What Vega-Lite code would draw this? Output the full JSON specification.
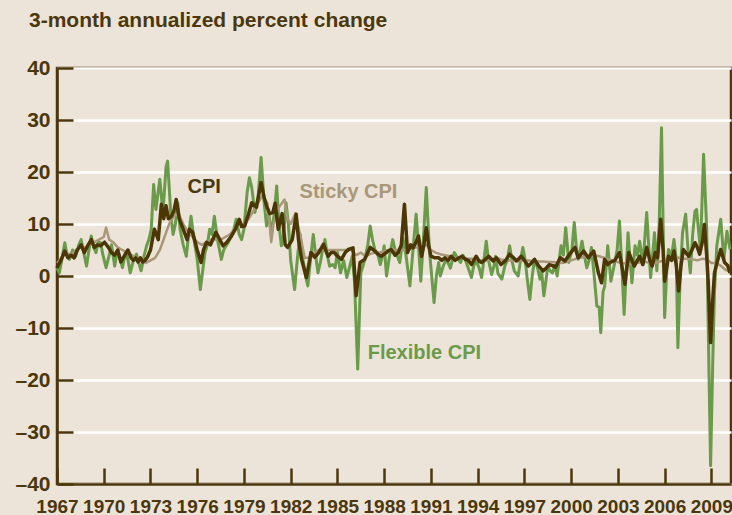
{
  "$schema": "https://vega.github.io/schema/vega-lite/v6.json",
  "width": 674,
  "height": 416,
  "autosize": "none",
  "padding": {"left": 57, "top": 68, "right": 1, "bottom": 31},
  "background": "#ece4d8",
  "title": {
    "text": "3-month annualized percent change",
    "anchor": "start",
    "frame": "group",
    "dx": -28,
    "offset": 9,
    "baseline": "alphabetic",
    "font": "Liberation Sans",
    "fontSize": 21,
    "fontWeight": "bold",
    "color": "#4b370b"
  },
  "config": {
    "view": {"stroke": "#4b370b", "strokeWidth": 2.5},
    "axis": {
      "labelFont": "Liberation Sans",
      "labelFontWeight": "bold",
      "labelColor": "#4b370b",
      "domainColor": "#4b370b",
      "domainWidth": 2.5,
      "tickColor": "#4b370b",
      "tickWidth": 2.5,
      "tickSize": -16,
      "title": null
    }
  },
  "datasets": {
    "flex": [
      {"t":1967.0,"v":1.5},{"t":1967.15,"v":0.6},{"t":1967.3,"v":3},{"t":1967.5,"v":6.4},{"t":1967.65,"v":4},{"t":1967.8,"v":3.2},
      {"t":1968.0,"v":5},{"t":1968.2,"v":3.8},{"t":1968.4,"v":6},{"t":1968.55,"v":7},{"t":1968.75,"v":4},{"t":1968.9,"v":1.9},
      {"t":1969.05,"v":5},{"t":1969.2,"v":7.7},{"t":1969.35,"v":5.5},{"t":1969.5,"v":4.5},{"t":1969.65,"v":6.5},{"t":1969.8,"v":6.4},{"t":1969.95,"v":4},
      {"t":1970.15,"v":1.6},{"t":1970.35,"v":4},{"t":1970.5,"v":6},{"t":1970.7,"v":1.9},{"t":1970.85,"v":4.5},
      {"t":1971.0,"v":3.8},{"t":1971.2,"v":1.6},{"t":1971.4,"v":4.5},{"t":1971.55,"v":3.2},{"t":1971.7,"v":0.6},{"t":1971.9,"v":3},
      {"t":1972.1,"v":4.2},{"t":1972.25,"v":2.5},{"t":1972.4,"v":1.0},{"t":1972.6,"v":4},{"t":1972.75,"v":5.8},{"t":1972.9,"v":7},
      {"t":1973.05,"v":9},{"t":1973.2,"v":17.6},{"t":1973.35,"v":12.8},{"t":1973.6,"v":18.6},{"t":1973.8,"v":12.2},
      {"t":1974.0,"v":21},{"t":1974.1,"v":22.1},{"t":1974.3,"v":12},{"t":1974.45,"v":8},{"t":1974.6,"v":10},{"t":1974.75,"v":14.1},{"t":1974.9,"v":9},
      {"t":1975.1,"v":6},{"t":1975.3,"v":3.8},{"t":1975.45,"v":8},{"t":1975.6,"v":11.5},{"t":1975.8,"v":7},
      {"t":1976.0,"v":3.2},{"t":1976.2,"v":-2.6},{"t":1976.35,"v":1},{"t":1976.5,"v":4.5},{"t":1976.65,"v":6},{"t":1976.8,"v":9},{"t":1976.95,"v":8},
      {"t":1977.1,"v":11.5},{"t":1977.3,"v":7},{"t":1977.55,"v":3.2},{"t":1977.7,"v":5},{"t":1977.85,"v":5.8},
      {"t":1978.0,"v":6.5},{"t":1978.2,"v":7.7},{"t":1978.35,"v":9},{"t":1978.5,"v":10.9},{"t":1978.7,"v":8},{"t":1978.85,"v":7},
      {"t":1979.0,"v":9},{"t":1979.2,"v":16},{"t":1979.35,"v":18.9},{"t":1979.5,"v":17},{"t":1979.7,"v":12.2},{"t":1979.9,"v":15},
      {"t":1980.1,"v":22.8},{"t":1980.3,"v":14},{"t":1980.45,"v":9.6},{"t":1980.6,"v":12},{"t":1980.75,"v":8.1},{"t":1980.95,"v":12},
      {"t":1981.1,"v":17.3},{"t":1981.25,"v":10},{"t":1981.4,"v":5.8},{"t":1981.55,"v":8},{"t":1981.7,"v":14.1},{"t":1981.85,"v":10},
      {"t":1982.0,"v":3},{"t":1982.25,"v":-2.6},{"t":1982.45,"v":4},{"t":1982.6,"v":8.1},{"t":1982.8,"v":3},
      {"t":1983.0,"v":-0.6},{"t":1983.1,"v":-1.9},{"t":1983.3,"v":4},{"t":1983.45,"v":8},{"t":1983.6,"v":4},{"t":1983.75,"v":0.6},{"t":1983.9,"v":2.6},
      {"t":1984.05,"v":5},{"t":1984.2,"v":7},{"t":1984.35,"v":4},{"t":1984.5,"v":1.9},{"t":1984.7,"v":2.2},{"t":1984.85,"v":1.6},
      {"t":1985.0,"v":4.5},{"t":1985.2,"v":0.6},{"t":1985.4,"v":3},{"t":1985.6,"v":-0.3},{"t":1985.8,"v":2},{"t":1985.95,"v":3.8},
      {"t":1986.1,"v":-1.3},{"t":1986.3,"v":-17.9},{"t":1986.5,"v":0.6},{"t":1986.65,"v":2},{"t":1986.75,"v":3.2},{"t":1986.95,"v":6},
      {"t":1987.1,"v":9.6},{"t":1987.25,"v":7},{"t":1987.4,"v":5.1},{"t":1987.6,"v":4},{"t":1987.75,"v":2.2},{"t":1987.9,"v":4},
      {"t":1988.0,"v":5.8},{"t":1988.15,"v":0},{"t":1988.35,"v":4},{"t":1988.55,"v":7},{"t":1988.7,"v":5},
      {"t":1989.0,"v":2.6},{"t":1989.2,"v":7.3},{"t":1989.4,"v":4},{"t":1989.65,"v":-1.9},{"t":1989.85,"v":5},
      {"t":1990.05,"v":11.9},{"t":1990.2,"v":6},{"t":1990.35,"v":-1.0},{"t":1990.5,"v":6},{"t":1990.7,"v":17.0},{"t":1990.9,"v":5.1},
      {"t":1991.05,"v":0},{"t":1991.2,"v":-5.1},{"t":1991.35,"v":0},{"t":1991.5,"v":2.6},{"t":1991.6,"v":0},{"t":1991.8,"v":2},
      {"t":1992.0,"v":3.2},{"t":1992.25,"v":1.5},{"t":1992.5,"v":4.5},{"t":1992.7,"v":3.5},{"t":1992.9,"v":2.6},
      {"t":1993.05,"v":4},{"t":1993.2,"v":3.2},{"t":1993.4,"v":1.5},{"t":1993.6,"v":-0.3},{"t":1993.75,"v":2},{"t":1993.9,"v":2.9},
      {"t":1994.1,"v":1.5},{"t":1994.25,"v":-0.3},{"t":1994.4,"v":3},{"t":1994.55,"v":6.7},{"t":1994.7,"v":3},{"t":1994.9,"v":0.3},
      {"t":1995.05,"v":2},{"t":1995.15,"v":3.8},{"t":1995.3,"v":0.5},{"t":1995.55,"v":-0.6},{"t":1995.75,"v":2},{"t":1995.9,"v":3},
      {"t":1996.05,"v":5.8},{"t":1996.2,"v":3},{"t":1996.35,"v":1.0},{"t":1996.6,"v":0},{"t":1996.75,"v":3},{"t":1996.9,"v":5.5},
      {"t":1997.05,"v":3},{"t":1997.2,"v":-1},{"t":1997.35,"v":-4.5},{"t":1997.5,"v":0},{"t":1997.65,"v":3.2},{"t":1997.85,"v":1.5},
      {"t":1998.0,"v":-0.6},{"t":1998.1,"v":1},{"t":1998.25,"v":-3.8},{"t":1998.4,"v":-0.5},{"t":1998.5,"v":1.9},{"t":1998.65,"v":1},{"t":1998.8,"v":0.6},{"t":1998.95,"v":2},
      {"t":1999.1,"v":0},{"t":1999.35,"v":5.8},{"t":1999.5,"v":4},{"t":1999.65,"v":9.3},{"t":1999.85,"v":2.6},
      {"t":2000.05,"v":5},{"t":2000.2,"v":10.3},{"t":2000.35,"v":5},{"t":2000.45,"v":3.2},{"t":2000.7,"v":6.7},{"t":2000.85,"v":4},
      {"t":2001.0,"v":1.6},{"t":2001.15,"v":3},{"t":2001.3,"v":5.5},{"t":2001.45,"v":1},{"t":2001.65,"v":-5.8},{"t":2001.8,"v":-6},{"t":2001.9,"v":-10.9},
      {"t":2002.05,"v":-3},{"t":2002.15,"v":-2},{"t":2002.35,"v":5.8},{"t":2002.55,"v":-1.0},{"t":2002.8,"v":2.6},{"t":2002.95,"v":5},
      {"t":2003.1,"v":10.6},{"t":2003.25,"v":2},{"t":2003.4,"v":-7.4},{"t":2003.55,"v":2},{"t":2003.65,"v":8.3},{"t":2003.9,"v":-1.3},
      {"t":2004.1,"v":5.8},{"t":2004.25,"v":4},{"t":2004.4,"v":6.7},{"t":2004.6,"v":2.2},{"t":2004.85,"v":12.2},
      {"t":2005.1,"v":-0.3},{"t":2005.2,"v":3},{"t":2005.35,"v":8.3},{"t":2005.5,"v":1.0},{"t":2005.65,"v":10},{"t":2005.8,"v":28.5},{"t":2005.9,"v":10},
      {"t":2006.0,"v":-8.0},{"t":2006.15,"v":2},{"t":2006.25,"v":5.1},{"t":2006.45,"v":4},{"t":2006.6,"v":7.0},{"t":2006.75,"v":3},{"t":2006.85,"v":-13.8},
      {"t":2007.0,"v":0},{"t":2007.15,"v":8.3},{"t":2007.35,"v":11.9},{"t":2007.5,"v":5},{"t":2007.65,"v":0.6},{"t":2007.8,"v":8},{"t":2007.95,"v":12.5},
      {"t":2008.05,"v":12.8},{"t":2008.2,"v":8},{"t":2008.3,"v":5.1},{"t":2008.5,"v":23.4},{"t":2008.7,"v":9},{"t":2008.8,"v":-10},{"t":2008.95,"v":-36.5},
      {"t":2009.1,"v":-15},{"t":2009.2,"v":-2.9},{"t":2009.35,"v":5.8},{"t":2009.6,"v":10.9},{"t":2009.8,"v":3.2},{"t":2010.0,"v":8.6},{"t":2010.2,"v":5.1}
    ],
    "sticky": [
      {"t":1967.0,"v":2.5},{"t":1967.3,"v":3.5},{"t":1967.6,"v":4.5},{"t":1967.9,"v":4},{"t":1968.2,"v":5},{"t":1968.5,"v":5.5},{"t":1968.8,"v":5.5},
      {"t":1969.1,"v":6},{"t":1969.4,"v":6.5},{"t":1969.7,"v":7},{"t":1970.0,"v":7.5},{"t":1970.15,"v":9.3},{"t":1970.35,"v":7},{"t":1970.6,"v":6.5},{"t":1970.9,"v":5.5},
      {"t":1971.2,"v":5},{"t":1971.5,"v":4.5},{"t":1971.8,"v":4},{"t":1972.1,"v":3.5},{"t":1972.4,"v":3},{"t":1972.7,"v":2.5},
      {"t":1973.0,"v":3},{"t":1973.3,"v":3.5},{"t":1973.6,"v":5},{"t":1973.9,"v":7.5},{"t":1974.2,"v":10},{"t":1974.5,"v":11.5},{"t":1974.8,"v":12},
      {"t":1975.1,"v":10},{"t":1975.4,"v":8.5},{"t":1975.7,"v":7.5},{"t":1976.0,"v":6.5},{"t":1976.3,"v":6},{"t":1976.6,"v":6.5},{"t":1976.9,"v":7},
      {"t":1977.2,"v":7},{"t":1977.5,"v":7},{"t":1977.8,"v":7.5},{"t":1978.1,"v":8},{"t":1978.4,"v":9},{"t":1978.7,"v":10},
      {"t":1979.0,"v":10},{"t":1979.3,"v":11},{"t":1979.6,"v":12.5},{"t":1979.9,"v":14},{"t":1980.2,"v":15.5},{"t":1980.5,"v":14},
      {"t":1980.65,"v":10},{"t":1980.75,"v":6.5},{"t":1980.9,"v":10},{"t":1981.2,"v":13},{"t":1981.6,"v":14.7},{"t":1981.8,"v":11},
      {"t":1982.0,"v":10},{"t":1982.3,"v":12},{"t":1982.6,"v":8},{"t":1982.9,"v":3.5},{"t":1983.2,"v":3.5},{"t":1983.5,"v":4.5},{"t":1983.8,"v":5},
      {"t":1984.1,"v":5},{"t":1984.4,"v":5},{"t":1984.7,"v":5},{"t":1985.0,"v":5},{"t":1985.3,"v":5},{"t":1985.6,"v":5},{"t":1985.9,"v":5},
      {"t":1986.2,"v":4},{"t":1986.5,"v":4.5},{"t":1986.8,"v":3.8},{"t":1987.1,"v":4.2},{"t":1987.4,"v":4.5},{"t":1987.7,"v":4.5},
      {"t":1988.0,"v":4.8},{"t":1988.3,"v":5},{"t":1988.6,"v":5},{"t":1988.9,"v":5},{"t":1989.2,"v":5},{"t":1989.5,"v":5},{"t":1989.8,"v":5.3},
      {"t":1990.1,"v":5.5},{"t":1990.4,"v":5.5},{"t":1990.7,"v":6},{"t":1991.0,"v":5},{"t":1991.3,"v":4.5},{"t":1991.6,"v":4.2},{"t":1991.9,"v":4},
      {"t":1992.2,"v":3.8},{"t":1992.5,"v":3.5},{"t":1992.8,"v":3.5},{"t":1993.1,"v":3.5},{"t":1993.4,"v":3.3},{"t":1993.7,"v":3.3},
      {"t":1994.0,"v":3},{"t":1994.3,"v":3},{"t":1994.6,"v":3},{"t":1994.9,"v":3.2},{"t":1995.2,"v":3.5},{"t":1995.5,"v":3.2},{"t":1995.8,"v":3},
      {"t":1996.1,"v":3},{"t":1996.4,"v":3},{"t":1996.7,"v":3},{"t":1997.0,"v":3},{"t":1997.3,"v":3},{"t":1997.6,"v":2.8},{"t":1997.9,"v":2.8},
      {"t":1998.2,"v":2.8},{"t":1998.5,"v":2.7},{"t":1998.8,"v":2.7},{"t":1999.1,"v":2.6},{"t":1999.4,"v":2.5},{"t":1999.7,"v":2.7},
      {"t":2000.0,"v":3},{"t":2000.3,"v":3.3},{"t":2000.6,"v":3.5},{"t":2000.9,"v":3.7},{"t":2001.2,"v":3.8},{"t":2001.5,"v":4},{"t":2001.8,"v":3.8},
      {"t":2002.1,"v":3.5},{"t":2002.4,"v":3.2},{"t":2002.7,"v":3},{"t":2003.0,"v":2.7},{"t":2003.3,"v":2.5},{"t":2003.6,"v":2.3},{"t":2003.9,"v":2.3},
      {"t":2004.2,"v":2.5},{"t":2004.5,"v":2.7},{"t":2004.8,"v":2.7},{"t":2005.1,"v":2.5},{"t":2005.4,"v":2.5},{"t":2005.7,"v":2.8},
      {"t":2006.0,"v":3},{"t":2006.3,"v":3.5},{"t":2006.6,"v":3.7},{"t":2006.9,"v":3.5},{"t":2007.2,"v":3.3},{"t":2007.5,"v":3.3},{"t":2007.8,"v":3.2},
      {"t":2008.1,"v":3},{"t":2008.4,"v":3.3},{"t":2008.7,"v":3.2},{"t":2009.0,"v":2.5},{"t":2009.3,"v":2.5},{"t":2009.6,"v":2},{"t":2009.9,"v":1.2},{"t":2010.2,"v":0.8}
    ],
    "cpi": [
      {"t":1967.0,"v":1.5},{"t":1967.05,"v":1.9},{"t":1967.25,"v":3},{"t":1967.5,"v":4.8},{"t":1967.7,"v":3.5},{"t":1967.9,"v":4},
      {"t":1968.1,"v":3.5},{"t":1968.3,"v":5},{"t":1968.55,"v":6},{"t":1968.75,"v":4.5},{"t":1969.0,"v":6},{"t":1969.2,"v":7},{"t":1969.4,"v":5.5},{"t":1969.6,"v":6},{"t":1969.8,"v":5.8},
      {"t":1970.05,"v":6.5},{"t":1970.3,"v":5.5},{"t":1970.5,"v":4.5},{"t":1970.7,"v":4},{"t":1970.9,"v":5},
      {"t":1971.1,"v":2.7},{"t":1971.35,"v":4},{"t":1971.55,"v":5},{"t":1971.75,"v":3.5},{"t":1971.9,"v":3},
      {"t":1972.05,"v":3.5},{"t":1972.2,"v":2.7},{"t":1972.35,"v":3.5},{"t":1972.5,"v":2.7},{"t":1972.65,"v":3},{"t":1972.8,"v":3.6},
      {"t":1973.0,"v":5},{"t":1973.25,"v":9},{"t":1973.5,"v":7},{"t":1973.7,"v":13.8},{"t":1973.85,"v":11},
      {"t":1974.0,"v":13.5},{"t":1974.15,"v":11},{"t":1974.35,"v":11.5},{"t":1974.5,"v":12.5},{"t":1974.65,"v":14.7},{"t":1974.85,"v":11},
      {"t":1975.1,"v":9},{"t":1975.35,"v":7},{"t":1975.5,"v":9},{"t":1975.7,"v":8.4},
      {"t":1976.0,"v":5},{"t":1976.25,"v":2.6},{"t":1976.4,"v":5},{"t":1976.6,"v":6.5},{"t":1976.85,"v":6},
      {"t":1977.2,"v":8.4},{"t":1977.45,"v":7},{"t":1977.65,"v":5.8},{"t":1977.9,"v":6.5},
      {"t":1978.2,"v":7.7},{"t":1978.45,"v":9},{"t":1978.7,"v":10.9},{"t":1978.85,"v":9.5},
      {"t":1979.05,"v":9.6},{"t":1979.3,"v":12},{"t":1979.5,"v":14.1},{"t":1979.8,"v":13.2},
      {"t":1980.1,"v":18},{"t":1980.3,"v":15},{"t":1980.45,"v":13.5},{"t":1980.65,"v":12},{"t":1980.85,"v":12.2},
      {"t":1981.0,"v":14},{"t":1981.2,"v":9},{"t":1981.45,"v":12},{"t":1981.65,"v":6},{"t":1981.8,"v":5.5},
      {"t":1982.1,"v":7},{"t":1982.35,"v":11.9},{"t":1982.5,"v":7},{"t":1982.7,"v":3.2},
      {"t":1983.0,"v":-0.3},{"t":1983.15,"v":2},{"t":1983.3,"v":4.5},{"t":1983.55,"v":3.6},{"t":1983.8,"v":4.5},
      {"t":1984.1,"v":6.1},{"t":1984.4,"v":3.8},{"t":1984.6,"v":4.5},{"t":1984.8,"v":4.5},
      {"t":1985.0,"v":3.8},{"t":1985.25,"v":3.2},{"t":1985.5,"v":4.5},{"t":1985.7,"v":5.1},
      {"t":1986.0,"v":5.4},{"t":1986.2,"v":-3.8},{"t":1986.45,"v":2.6},{"t":1986.75,"v":3.2},
      {"t":1987.1,"v":5.5},{"t":1987.4,"v":4.8},{"t":1987.6,"v":4.2},{"t":1987.8,"v":3.8},
      {"t":1988.0,"v":4.2},{"t":1988.25,"v":4.8},{"t":1988.45,"v":5.1},{"t":1988.7,"v":4},{"t":1988.9,"v":4.5},
      {"t":1989.1,"v":6},{"t":1989.3,"v":13.8},{"t":1989.5,"v":4.5},{"t":1989.7,"v":6},{"t":1989.85,"v":5.4},
      {"t":1990.05,"v":6.5},{"t":1990.2,"v":7.7},{"t":1990.4,"v":3.8},{"t":1990.55,"v":6},{"t":1990.7,"v":9.3},{"t":1990.85,"v":6},
      {"t":1991.0,"v":3.8},{"t":1991.25,"v":3.5},{"t":1991.5,"v":3.5},{"t":1991.7,"v":3},{"t":1991.9,"v":3.5},
      {"t":1992.1,"v":3},{"t":1992.3,"v":3.8},{"t":1992.55,"v":3},{"t":1992.8,"v":3.5},
      {"t":1993.0,"v":3.8},{"t":1993.2,"v":3.2},{"t":1993.4,"v":3},{"t":1993.6,"v":2.2},{"t":1993.75,"v":3},{"t":1993.9,"v":3.8},
      {"t":1994.1,"v":2.8},{"t":1994.25,"v":2.6},{"t":1994.5,"v":3.2},{"t":1994.7,"v":3.8},
      {"t":1995.0,"v":2.9},{"t":1995.2,"v":3.5},{"t":1995.5,"v":2.2},{"t":1995.8,"v":3},
      {"t":1996.05,"v":4.2},{"t":1996.3,"v":3.5},{"t":1996.5,"v":2.9},{"t":1996.8,"v":3.8},
      {"t":1997.05,"v":2.8},{"t":1997.25,"v":1.9},{"t":1997.45,"v":2.5},{"t":1997.65,"v":3.2},{"t":1997.9,"v":2},
      {"t":1998.2,"v":1.0},{"t":1998.4,"v":1.5},{"t":1998.6,"v":2.2},{"t":1998.8,"v":2},
      {"t":1999.0,"v":1.7},{"t":1999.3,"v":3.5},{"t":1999.6,"v":2.9},{"t":1999.9,"v":4.2},
      {"t":2000.25,"v":5.5},{"t":2000.45,"v":3.5},{"t":2000.8,"v":4.8},
      {"t":2001.1,"v":3.5},{"t":2001.45,"v":4.8},{"t":2001.75,"v":0.6},{"t":2001.95,"v":-1.3},
      {"t":2002.15,"v":3.2},{"t":2002.35,"v":2.2},{"t":2002.5,"v":2.6},{"t":2002.8,"v":3},
      {"t":2003.1,"v":4.5},{"t":2003.25,"v":2},{"t":2003.45,"v":-1.6},{"t":2003.7,"v":4.5},{"t":2003.9,"v":3},
      {"t":2004.05,"v":1.9},{"t":2004.25,"v":3},{"t":2004.4,"v":3.8},{"t":2004.6,"v":2.2},{"t":2004.85,"v":5.5},
      {"t":2005.05,"v":3},{"t":2005.2,"v":1.9},{"t":2005.4,"v":4.5},{"t":2005.55,"v":3.5},{"t":2005.75,"v":10.9},{"t":2005.9,"v":5},
      {"t":2006.0,"v":-1.0},{"t":2006.25,"v":3.8},{"t":2006.45,"v":3},{"t":2006.6,"v":4.8},{"t":2006.75,"v":2},{"t":2006.9,"v":-2.9},
      {"t":2007.05,"v":2},{"t":2007.2,"v":5.1},{"t":2007.35,"v":4.5},{"t":2007.55,"v":3.8},{"t":2007.75,"v":5},{"t":2007.95,"v":6.4},
      {"t":2008.1,"v":5.5},{"t":2008.25,"v":4.2},{"t":2008.45,"v":7},{"t":2008.55,"v":9.9},{"t":2008.7,"v":4},{"t":2008.8,"v":-1.3},{"t":2008.95,"v":-12.8},
      {"t":2009.1,"v":-4},{"t":2009.2,"v":0.6},{"t":2009.4,"v":3},{"t":2009.6,"v":5.1},{"t":2009.85,"v":2.6},{"t":2010.05,"v":2},{"t":2010.2,"v":0.6}
    ],
    "labels": [
      {"t":1975.38,"v":17.1,"label":"CPI","s":"cpi"},
      {"t":1982.57,"v":16.1,"label":"Sticky CPI","s":"sticky"},
      {"t":1986.94,"v":-14.9,"label":"Flexible CPI","s":"flex"}
    ]
  },
  "encoding": {
    "x": {
      "field": "t",
      "type": "quantitative",
      "scale": {"domain": [1967, 2010.26], "nice": false, "zero": false},
      "axis": {
        "values": [1967,1970,1973,1976,1979,1982,1985,1988,1991,1994,1997,2000,2003,2006,2009],
        "format": "d",
        "grid": false,
        "labelFontSize": 19,
        "labelPadding": 29,
        "labelFlush": false,
        "labelOverlap": false
      }
    },
    "y": {
      "field": "v",
      "type": "quantitative",
      "scale": {"domain": [-40, 40], "nice": false},
      "axis": {
        "values": [-40,-30,-20,-10,0,10,20,30,40],
        "labelExpr": "datum.value < 0 ? '\u2013' + abs(datum.value) : datum.value",
        "labelFontSize": 21,
        "grid": true,
        "gridColor": "#ffffff",
        "gridWidth": 2.5,
        "labelPadding": 23
      }
    }
  },
  "layer": [
    {
      "data": {"name": "flex"},
      "mark": {"type": "line", "color": "#6a9a4a", "strokeWidth": 3, "strokeJoin": "round"}
    },
    {
      "data": {"name": "sticky"},
      "mark": {"type": "line", "color": "#a9977a", "strokeWidth": 2.5, "strokeJoin": "round"}
    },
    {
      "data": {"name": "cpi"},
      "mark": {"type": "line", "color": "#4b3606", "strokeWidth": 3.5, "strokeJoin": "round"}
    },
    {
      "data": {"name": "labels"},
      "mark": {"type": "text", "align": "left", "baseline": "middle", "font": "Liberation Sans", "fontSize": 20, "fontWeight": "bold"},
      "encoding": {
        "text": {"field": "label"},
        "color": {
          "field": "s",
          "type": "nominal",
          "scale": {"domain": ["cpi", "sticky", "flex"], "range": ["#4b370b", "#a9977a", "#6a9a4a"]},
          "legend": null
        }
      }
    }
  ]
}
